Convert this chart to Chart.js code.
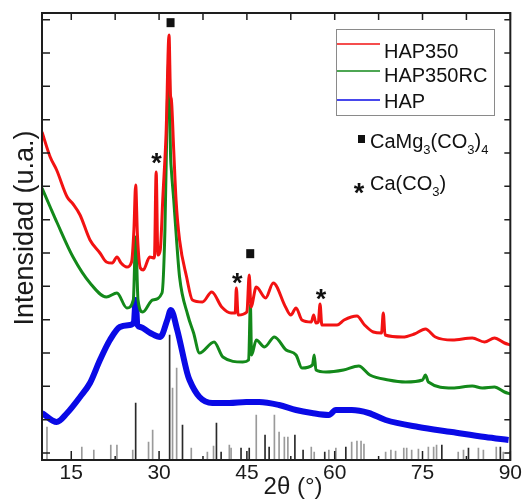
<!DOCTYPE html>
<html>
<head>
<meta charset="utf-8">
<script src="https://cdn.jsdelivr.net/npm/chart.js@4"></script>
<style>
  html, body { margin: 0; padding: 0; background: #fff; }
  canvas { display: block; }
</style>
</head>
<body>
<canvas id="xrd" width="523" height="499"></canvas>
<script>
// 2theta (deg) / intensity (a.u.)
const hap350 = [
  [10.0, 963], [11.4, 888], [12.5, 849], [14.3, 768], [15.3, 747], [16.5, 714], [18.2, 639],
  [19.9, 600], [21.0, 573], [22.0, 570], [22.8, 588], [23.5, 570], [24.5, 558], [25.3, 573],
  [25.7, 669], [26.0, 804], [26.3, 654], [26.8, 555], [27.3, 549], [28.4, 588], [29.2, 585],
  [29.5, 843], [29.8, 594], [30.2, 609], [30.65, 769], [31.2, 960], [31.7, 1254], [31.95, 1074],
  [32.1, 1060], [32.5, 909], [32.9, 759], [33.5, 639], [34.7, 528], [35.7, 459], [37.4, 453],
  [39.0, 483], [40.7, 438], [42.3, 420], [43.0, 420], [43.2, 495], [43.5, 414], [45.0, 423],
  [45.4, 534], [45.7, 438], [46.6, 498], [48.2, 465], [49.5, 510], [51.6, 438], [52.5, 414],
  [53.4, 435], [54.4, 399], [56.0, 393], [56.4, 414], [56.8, 390], [57.2, 393], [57.5, 447],
  [57.8, 384], [60.4, 384], [61.6, 399], [63.8, 411], [65.1, 384], [66.6, 363], [68.0, 360],
  [68.3, 420], [68.6, 354], [71.6, 348], [73.6, 357], [75.5, 372], [77.2, 348], [80.1, 339],
  [83.5, 345], [85.6, 333], [87.3, 345], [89.0, 330], [90.0, 324]
];
const hap350rc = [
  [10.0, 795], [11.4, 738], [12.6, 690], [15.3, 588], [18.2, 510], [21.0, 468], [22.8, 480],
  [24.5, 435], [25.6, 459], [26.0, 648], [26.4, 459], [27.2, 423], [28.9, 459], [30.5, 480],
  [31.0, 669], [31.35, 999], [31.7, 1189], [31.95, 900], [32.1, 849], [32.5, 760], [32.9, 660],
  [33.5, 528], [34.9, 414], [35.9, 360], [36.9, 300], [39.4, 333], [40.9, 288], [44.3, 273],
  [45.3, 279], [45.6, 444], [45.8, 294], [46.6, 339], [48.0, 318], [49.7, 348], [51.7, 309],
  [53.4, 294], [54.4, 255], [56.2, 264], [56.5, 294], [56.8, 249], [58.5, 243], [61.5, 249],
  [64.1, 261], [66.0, 234], [69.2, 219], [72.1, 213], [75.0, 219], [75.5, 234], [76.0, 213],
  [80.1, 195], [83.5, 201], [85.2, 195], [87.3, 198], [89.0, 183], [90.0, 177]
];
const hap = [
  [10.0, 120], [12.5, 93], [14.3, 120], [16.5, 168], [18.2, 210], [19.9, 279], [21.6, 339],
  [23.3, 378], [25.0, 384], [25.7, 393], [26.0, 459], [26.3, 384], [26.8, 378], [28.5, 360],
  [30.2, 348], [31.4, 399], [32.0, 429], [33.1, 369], [34.8, 240], [35.2, 219], [36.9, 168],
  [39.1, 150], [42.0, 150], [44.9, 153], [47.1, 153], [50.5, 144], [53.4, 129], [56.1, 120],
  [59.0, 114], [60.2, 129], [62.9, 129], [65.8, 120], [68.7, 99], [74.3, 78], [80.0, 63],
  [85.7, 48], [89.7, 39]
];
// reference pattern sticks: [2theta, height]
const sticksGrey = [
  [10.85, 78], [16.8, 18], [18.85, 9], [21.75, 24], [22.8, 24], [25.5, 9], [28.2, 33], [28.9, 69],
  [32.3, 195], [33.0, 255], [35.5, 15], [38.25, 3], [39.3, 21], [42.0, 24], [42.3, 15],
  [46.6, 114], [49.7, 114], [50.5, 63], [51.4, 48], [52.0, 48], [56.0, 18], [56.5, 3], [59.0, 9],
  [60.2, 15], [62.9, 33], [63.8, 36], [64.5, 36], [65.0, 27], [68.7, 3], [69.6, 9], [70.4, 6],
  [71.8, 15], [72.3, 15], [73.15, 9], [74.3, 12], [76.0, 18], [76.9, 18], [77.4, 24], [81.1, 3],
  [82.0, 9], [84.55, 15], [85.4, 9], [87.6, 18], [88.8, 3]
];
const sticksBlack = [
  [26.0, 150], [31.8, 354], [34.0, 84], [39.8, 90], [40.6, 3], [44.0, 15], [45.4, 15],
  [48.1, 54], [48.8, 18], [53.2, 54], [54.6, 9], [58.3, 3], [61.9, 18], [78.3, 24],
  [82.85, 15], [88.3, 18]
];
const xMajorTicks = [15, 30, 45, 60, 75, 90];
const xMinorTicks = [22.5, 37.5, 52.5, 67.5, 82.5];
const yTicks = [0, 100, 200, 300, 400, 500, 600, 700, 800, 900, 1000, 1100, 1200, 1300];
const seriesNames = ['HAP350', 'HAP350RC', 'HAP'];
// phase marks: [2theta, intensity]
const squareMarks = [[31.96, 1291], [45.57, 598]];
const starMarks = [[29.57, 888], [43.36, 528], [57.66, 480]];

const yMin = -21, yMax = 1320;
const FONT = '"Liberation Sans", Arial, sans-serif';

const toXY = arr => arr.map(([x, y]) => ({x, y}));
const toStick = arr => arr.map(([x, h]) => ({x, y: [yMin, h]}));

const decor = {
  id: 'decor',
  afterDraw(chart) {
    const {ctx, chartArea: a} = chart;
    const xs = chart.scales.x, ys = chart.scales.y;
    ctx.save();
    ctx.strokeStyle = '#1e1e1e';
    ctx.lineWidth = 1.5;
    ctx.beginPath();
    yTicks.forEach(v => {
      const py = ys.getPixelForValue(v);
      ctx.moveTo(a.left, py); ctx.lineTo(a.left + 8, py);
      ctx.moveTo(a.right, py); ctx.lineTo(a.right - 6, py);
    });
    xMajorTicks.concat(xMinorTicks).forEach(v => {
      const px = xs.getPixelForValue(v);
      ctx.moveTo(px, a.top); ctx.lineTo(px, a.top + 7);
    });
    xMajorTicks.forEach(v => {
      const px = xs.getPixelForValue(v);
      ctx.moveTo(px, a.bottom); ctx.lineTo(px, a.bottom - 9);
    });
    xMinorTicks.forEach(v => {
      const px = xs.getPixelForValue(v);
      ctx.moveTo(px, a.bottom); ctx.lineTo(px, a.bottom - 4);
    });
    ctx.stroke();
    ctx.lineWidth = 2;
    ctx.strokeRect(a.left, a.top, a.right - a.left, a.bottom - a.top);

    // phase marks on the patterns
    ctx.fillStyle = '#111';
    squareMarks.forEach(([v, i]) => {
      const px = xs.getPixelForValue(v), py = ys.getPixelForValue(i);
      ctx.fillRect(px - 4, py - 4.5, 8, 9);
    });
    ctx.font = 'bold 27px ' + FONT;
    ctx.textAlign = 'center';
    ctx.textBaseline = 'alphabetic';
    starMarks.forEach(([v, i]) => {
      const px = xs.getPixelForValue(v), py = ys.getPixelForValue(i);
      ctx.fillText('*', px, py + 15);
    });

    // legend box
    ctx.strokeStyle = '#8a8a8a';
    ctx.lineWidth = 1;
    ctx.strokeRect(336.5, 29.5, 158, 86);
    const rows = [[44, 58], [71, 82], [100, 108]];
    ctx.font = '20px ' + FONT;
    ctx.textAlign = 'left';
    seriesNames.forEach((name, k) => {
      ctx.strokeStyle = chart.data.datasets[k].borderColor;
      ctx.lineWidth = 1.5;
      ctx.beginPath();
      ctx.moveTo(337, rows[k][0]); ctx.lineTo(380, rows[k][0]);
      ctx.stroke();
      ctx.fillStyle = '#111';
      ctx.fillText(name, 384, rows[k][1]);
    });

    // phase key
    const runs = (x, base, parts) => {
      parts.forEach(([t, sub]) => {
        ctx.font = (sub ? '13px ' : '20px ') + FONT;
        ctx.fillText(t, x, base + (sub ? 6 : 0));
        x += ctx.measureText(t).width;
      });
    };
    ctx.fillStyle = '#111';
    ctx.fillRect(358, 135, 7, 8);
    runs(370, 148, [['CaMg', 0], ['3', 1], ['(CO', 0], ['3', 1], [')', 0], ['4', 1]]);
    ctx.font = 'bold 27px ' + FONT;
    ctx.textAlign = 'center';
    ctx.fillText('*', 359, 202);
    ctx.textAlign = 'left';
    runs(370, 190, [['Ca(CO', 0], ['3', 1], [')', 0]]);

    // axis titles
    ctx.fillStyle = '#1a1a1a';
    ctx.font = '24px ' + FONT;
    ctx.textAlign = 'center';
    ctx.fillText('2\u03b8 (\u00b0)', 293, 494);
    ctx.translate(33, 228);
    ctx.rotate(-Math.PI / 2);
    ctx.font = '27px ' + FONT;
    ctx.fillText('Intensidad (u.a.)', 0, 0);
    ctx.restore();
  }
};

new Chart(document.getElementById('xrd'), {
  type: 'line',
  data: {
    datasets: [
      { label: seriesNames[0], data: toXY(hap350), borderColor: '#f21212', borderWidth: 3, order: 1 },
      { label: seriesNames[1], data: toXY(hap350rc), borderColor: '#13891a', borderWidth: 3, order: 2 },
      { label: seriesNames[2], data: toXY(hap), borderColor: '#0a0ae6', borderWidth: 6, order: 3 },
      { type: 'bar', label: 'ref', data: toStick(sticksGrey), backgroundColor: '#9a9a9a',
        barThickness: 1, grouped: false, borderWidth: 0, order: 5 },
      { type: 'bar', label: 'ref2', data: toStick(sticksBlack), backgroundColor: '#2a2a2a',
        barThickness: 1, grouped: false, borderWidth: 0, order: 4 }
    ]
  },
  options: {
    responsive: false,
    devicePixelRatio: 1,
    animation: false,
    layout: { padding: { left: 42, right: 11, top: 13, bottom: 0 } },
    elements: {
      point: { radius: 0 },
      line: { cubicInterpolationMode: 'monotone', borderJoinStyle: 'round', fill: false }
    },
    plugins: { legend: { display: false }, tooltip: { enabled: false } },
    scales: {
      x: {
        type: 'linear', min: 10, max: 90, offset: false,
        afterBuildTicks: s => { s.ticks = xMajorTicks.map(v => ({value: v})); },
        afterFit: s => { s.height = 39; },
        grid: { display: false, drawTicks: false },
        border: { display: false },
        ticks: { padding: 1, color: '#1a1a1a', font: { family: FONT, size: 21 }, maxRotation: 0, autoSkip: false }
      },
      y: { type: 'linear', min: yMin, max: yMax, display: false }
    }
  },
  plugins: [decor]
});
</script>
</body>
</html>
